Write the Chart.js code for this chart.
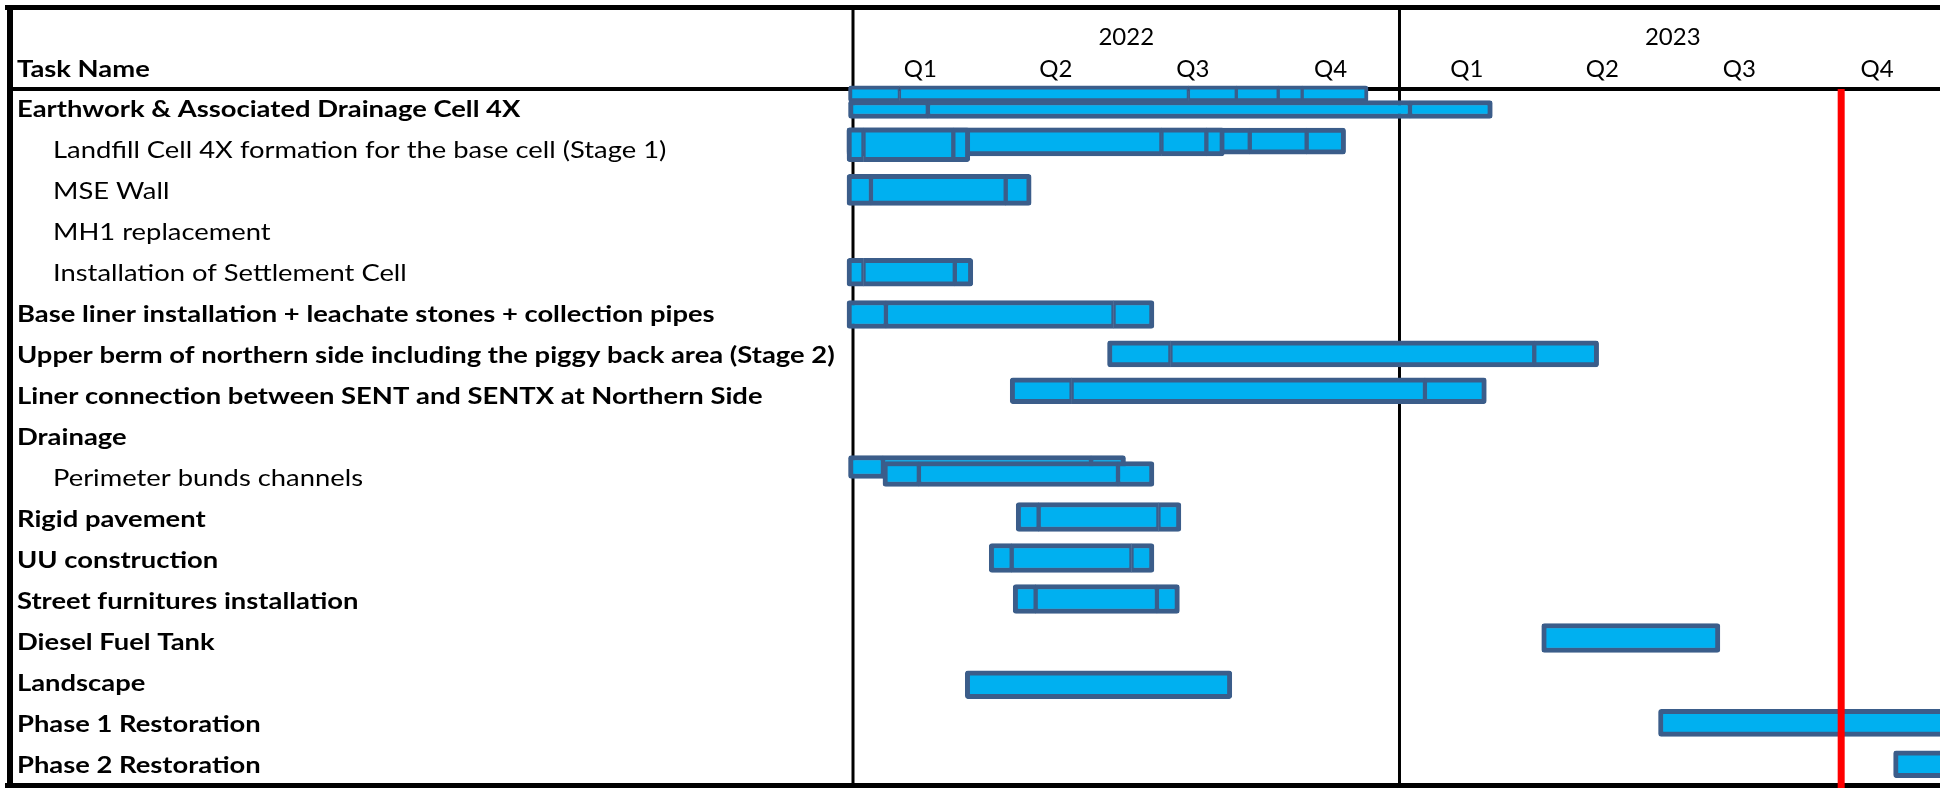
<!DOCTYPE html>
<html>
<head>
<meta charset="utf-8">
<script src="https://cdn.jsdelivr.net/npm/chart.js@4.4.1/dist/chart.umd.min.js"></script>
<style>
html,body{margin:0;padding:0;background:#fff;overflow:hidden}
#wrap{width:1940px;height:788px;position:relative}
</style>
</head>
<body>
<div id="wrap"><canvas id="c"></canvas></div>
<script>
// ================= DATA =================
const tasks = [
  'Earthwork & Associated Drainage Cell 4X',
  'Landfill Cell 4X formation for the base cell (Stage 1)',
  'MSE Wall',
  'MH1 replacement',
  'Installation of Settlement Cell',
  'Base liner installation + leachate stones + collection pipes',
  'Upper berm of northern side including the piggy back area (Stage 2)',
  'Liner connection between SENT and SENTX at Northern Side',
  'Drainage',
  'Perimeter bunds channels',
  'Rigid pavement',
  'UU construction',
  'Street furnitures installation',
  'Diesel Fuel Tank',
  'Landscape',
  'Phase 1 Restoration',
  'Phase 2 Restoration'
];
const taskLevel = [0,1,1,1,1,0,0,0,0,1,0,0,0,0,0,0,0];
const headerTitle = 'Task Name';
const years = ['2022','2023'];
const quarters = ['Q1','Q2','Q3','Q4'];
const timelineStart = '2022-01-01';
const timelineEnd = '2023-12-28';
const todayDate = '2023-10-23';

// each bar: task row it belongs to, and its segment boundary dates (listed back to front)
const barTask = [0,0, 1,1,1, 2, 4, 5, 6, 7, 9,9, 10, 11, 12, 13, 14, 15, 16];
const barDates = [
  ['2021-12-29','2022-02-01','2022-08-13','2022-09-14','2022-10-12','2022-10-28','2022-12-11'],
  ['2021-12-29','2022-02-20','2023-01-08','2023-03-04'],
  ['2021-12-28','2022-09-23','2022-10-31','2022-11-26'],
  ['2021-12-28','2022-07-26','2022-08-25','2022-09-06'],
  ['2021-12-28','2022-01-08','2022-03-09','2022-03-20'],
  ['2021-12-28','2022-01-13','2022-04-13','2022-04-30'],
  ['2021-12-28','2022-01-08','2022-03-10','2022-03-22'],
  ['2021-12-28','2022-01-23','2022-06-24','2022-07-21'],
  ['2022-06-20','2022-08-01','2023-04-01','2023-05-14'],
  ['2022-04-16','2022-05-27','2023-01-18','2023-02-28'],
  ['2021-12-29','2022-01-21','2022-06-09','2022-07-02'],
  ['2022-01-21','2022-02-14','2022-06-27','2022-07-21'],
  ['2022-04-20','2022-05-05','2022-07-24','2022-08-08'],
  ['2022-04-02','2022-04-17','2022-07-06','2022-07-21'],
  ['2022-04-18','2022-05-03','2022-07-23','2022-08-07'],
  ['2023-04-06','2023-08-03'],
  ['2022-03-17','2022-09-11'],
  ['2023-06-23','2024-03-31'],
  ['2023-11-27','2024-03-31']
];

// ================= STYLE =================
const barShift = [-0.38,0, -0.23,-0.21,-0.14, -0.04, -0.03, 0, -0.04, -0.14, -0.28,-0.11, -0.06,-0.06,-0.06, -0.11, 0.03, -0.04, -0.03];
const barPx    = [16,18, 26,28,34, 31, 28, 28, 26, 26, 23,25, 29,29,29, 29, 28, 27, 27];
const barEdge  = [4,5, 5,5,5, 5, 5, 5, 5, 5, 5,5, 5,5,5, 5, 5, 5, 5];
const FILL = '#00B0F0', EDGE = '#3B5D8A', RAD = 3;
const FONT = 'Lato, "Open Sans", sans-serif';
const TEXT_SIZE = 23, TEXT_STRETCH = 1.19;

// ================= HELPERS =================
const DAY = 86400000;
function dayOf(s){ const [y,m,d] = s.split('-').map(Number); const [y0,m0,d0] = timelineStart.split('-').map(Number);
  return (Date.UTC(y,m-1,d) - Date.UTC(y0,m0-1,d0)) / DAY; }

const datasets = barDates.map((dates, i) => ({
  data: dates.slice(0, -1).map((d, j) => ({ x: [dayOf(d), dayOf(dates[j+1])], y: barTask[i] + barShift[i] })),
  barThickness: barPx[i],
  order: barDates.length - i,
  backgroundColor: FILL,
  borderColor: EDGE,
  borderSkipped: false,
  clip: false,
  borderWidth: c => { const n = c.dataset.data.length, j = c.dataIndex, bw = barEdge[c.datasetIndex];
    return { top: bw, bottom: bw, left: j === 0 ? bw : bw/2, right: j === n-1 ? bw : bw/2 }; },
  borderRadius: c => { const n = c.dataset.data.length, j = c.dataIndex;
    return { topLeft: j===0?RAD:0, bottomLeft: j===0?RAD:0, topRight: j===n-1?RAD:0, bottomRight: j===n-1?RAD:0 }; }
}));

function quarterCenters(){
  const out = [];
  years.forEach(yr => quarters.forEach((q, qi) => {
    const a = dayOf(`${yr}-${String(qi*3+1).padStart(2,'0')}-01`);
    const b = qi === 3 ? dayOf(`${Number(yr)+1}-01-01`) : dayOf(`${yr}-${String(qi*3+4).padStart(2,'0')}-01`);
    out.push({ value: (a + b) / 2 });
  }));
  return out;
}
function yearCenters(){
  return years.map(yr => ({ value: (dayOf(`${yr}-01-01`) + dayOf(`${Number(yr)+1}-01-01`)) / 2 }));
}

function hline(ctx, x1, x2, y){ ctx.beginPath(); ctx.moveTo(x1, y); ctx.lineTo(x2, y); ctx.stroke(); }
function vline(ctx, x, y1, y2){ ctx.beginPath(); ctx.moveTo(x, y1); ctx.lineTo(x, y2); ctx.stroke(); }
function stretchedText(ctx, text, x, y, bold){
  ctx.save();
  ctx.font = `${bold ? 'bold ' : ''}${TEXT_SIZE}px ${FONT}`;
  ctx.translate(x, y);
  ctx.scale(TEXT_STRETCH, 1);
  ctx.fillStyle = '#000';
  ctx.textBaseline = 'alphabetic';
  ctx.textAlign = 'left';
  ctx.fillText(text, 0, 0);
  ctx.restore();
}

const ganttFrame = {
  id: 'ganttFrame',
  beforeDatasetsDraw(chart){
    const { ctx, chartArea, scales } = chart;
    const W = chart.width, H = chart.height;
    ctx.save();
    ctx.strokeStyle = '#000';
    ctx.lineWidth = 4;
    hline(ctx, 8, W, chartArea.top);
    ctx.lineWidth = 3;
    vline(ctx, chartArea.left, 6, H);
    years.forEach((yr, i) => { if (i > 0) vline(ctx, scales.x.getPixelForValue(dayOf(`${yr}-01-01`)), 6, H); });
    // task names
    const yS = scales.y;
    stretchedText(ctx, headerTitle, 17, scales.x.bottom - 12, true);
    tasks.forEach((t, i) => {
      const py = yS.getPixelForValue(i) + 7.5;
      stretchedText(ctx, t, taskLevel[i] === 0 ? 17 : 53, py, taskLevel[i] === 0);
    });
    ctx.restore();
  },
  afterDatasetsDraw(chart){
    const { ctx, chartArea, scales } = chart;
    const W = chart.width, H = chart.height;
    ctx.save();
    ctx.strokeStyle = '#000';
    ctx.lineWidth = 5;
    hline(ctx, 5, W, 7.5);
    hline(ctx, 5, W, H - 2.5);
    ctx.lineWidth = 6;
    vline(ctx, 10, 5, H);
    // today line
    ctx.strokeStyle = '#FF0000';
    ctx.lineWidth = 7;
    vline(ctx, scales.x.getPixelForValue(dayOf(todayDate)), chartArea.top, H);
    ctx.restore();
  }
};

new Chart(document.getElementById('c'), {
  type: 'bar',
  data: { datasets },
  plugins: [ganttFrame],
  options: {
    indexAxis: 'y',
    responsive: true,
    maintainAspectRatio: false,
    animation: false,
    layout: { padding: { left: 853, right: 0, top: 0, bottom: 2 } },
    plugins: { legend: { display: false }, tooltip: { enabled: false } },
    datasets: { bar: { grouped: false } },
    scales: {
      y: { type: 'linear', offset: false, min: -0.5, max: tasks.length - 0.5, reverse: true, display: false },
      x: {
        type: 'linear', position: 'top', weight: 0, offset: false,
        min: dayOf(timelineStart), max: dayOf(timelineEnd),
        grid: { display: false, drawTicks: false }, border: { display: false },
        afterFit: s => { s.height = 40; },
        afterBuildTicks: s => { s.ticks = quarterCenters(); },
        ticks: { autoSkip: false, maxRotation: 0, padding: 8, color: '#000',
          font: { family: FONT, size: 24, lineHeight: 1 },
          callback: (v, i) => quarters[i % quarters.length] }
      },
      x2: {
        type: 'linear', axis: 'x', position: 'top', weight: 1, offset: false,
        min: dayOf(timelineStart), max: dayOf(timelineEnd),
        grid: { display: false, drawTicks: false }, border: { display: false },
        afterFit: s => { s.height = 49; },
        afterBuildTicks: s => { s.ticks = yearCenters(); },
        ticks: { autoSkip: false, maxRotation: 0, padding: 0, color: '#000',
          font: { family: FONT, size: 24, lineHeight: 1 },
          callback: (v, i) => years[i] }
      }
    }
  }
});
</script>
</body>
</html>
